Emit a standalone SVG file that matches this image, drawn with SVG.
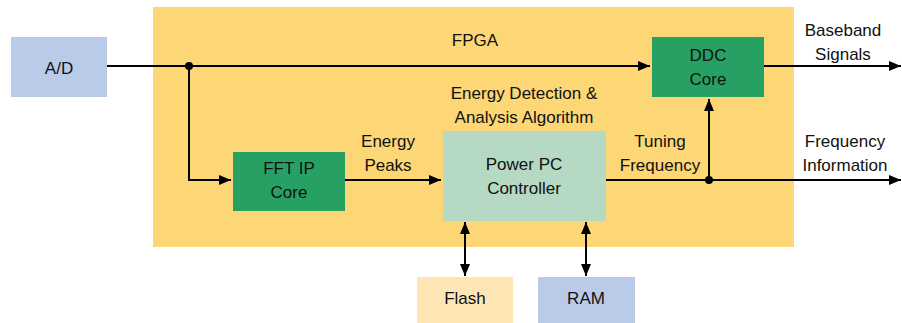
<svg xmlns="http://www.w3.org/2000/svg" width="902" height="323" viewBox="0 0 902 323">
<style>
text{font-family:"Liberation Sans",Arial,sans-serif;font-size:17px;fill:#111;text-anchor:middle}
.ln{stroke:#000;stroke-width:2;fill:none}
.green{fill:#27a163}
</style>
<defs>
<marker id="ah" viewBox="0 0 12 10" refX="12" refY="5" markerWidth="12" markerHeight="10" markerUnits="userSpaceOnUse" orient="auto-start-reverse">
<path d="M0,0 L12,5 L0,10 z" fill="#000"/>
</marker>
</defs>
<g id="fpga">
<rect x="153" y="7" width="641" height="240" fill="#fdd675"/>
<text x="475" y="46">FPGA</text>
</g>
<g id="ad">
<rect x="11" y="37" width="96" height="60" fill="#b9cbe8"/>
<text x="59" y="74">A/D</text>
</g>
<g id="ddc">
<rect x="652" y="37" width="112" height="60" class="green"/>
<text x="708" y="61">DDC</text>
<text x="708" y="85">Core</text>
</g>
<g id="fft">
<rect x="233" y="152" width="112" height="59" class="green"/>
<text x="289" y="174">FFT IP</text>
<text x="289" y="198">Core</text>
</g>
<g id="ppc">
<rect x="443" y="131" width="163" height="90" fill="#b5d9c3"/>
<text x="524" y="170">Power PC</text>
<text x="524" y="194">Controller</text>
</g>
<g id="flash">
<rect x="417" y="277" width="96" height="46" fill="#fee6b4"/>
<text x="465" y="304">Flash</text>
</g>
<g id="ram">
<rect x="538" y="277" width="97" height="46" fill="#b9cbe8"/>
<text x="586" y="304">RAM</text>
</g>
<g id="labels">
<text x="524" y="99">Energy Detection &amp;</text>
<text x="524" y="123">Analysis Algorithm</text>
<text x="388" y="147">Energy</text>
<text x="388" y="171">Peaks</text>
<text x="660" y="147">Tuning</text>
<text x="660" y="171">Frequency</text>
<text x="843" y="36">Baseband</text>
<text x="843" y="60">Signals</text>
<text x="845" y="147">Frequency</text>
<text x="845" y="171">Information</text>
</g>
<g id="connectors">
<line class="ln" x1="107" y1="66" x2="650" y2="66" marker-end="url(#ah)"/>
<polyline class="ln" points="189,66 189,180 231,180" marker-end="url(#ah)"/>
<line class="ln" x1="345" y1="180" x2="441" y2="180" marker-end="url(#ah)"/>
<line class="ln" x1="764" y1="66" x2="901" y2="66" marker-end="url(#ah)"/>
<line class="ln" x1="606" y1="180" x2="901" y2="180" marker-end="url(#ah)"/>
<line class="ln" x1="709" y1="180" x2="709" y2="99" marker-end="url(#ah)"/>
<line class="ln" x1="465" y1="222" x2="465" y2="276" marker-start="url(#ah)" marker-end="url(#ah)"/>
<line class="ln" x1="586" y1="222" x2="586" y2="276" marker-start="url(#ah)" marker-end="url(#ah)"/>
<circle cx="189" cy="66" r="4"/>
<circle cx="709" cy="180" r="4"/>
</g>
</svg>
